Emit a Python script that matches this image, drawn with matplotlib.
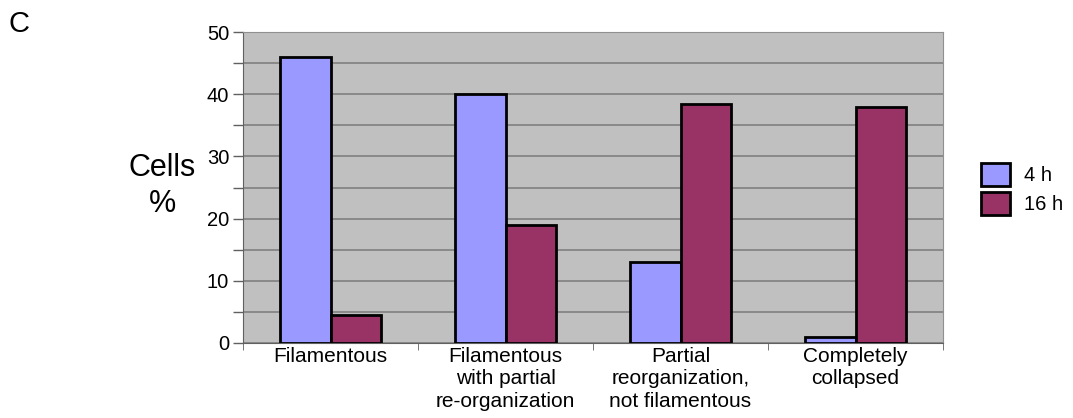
import matplotlib
matplotlib.use("Agg")
import matplotlib.pyplot as plt
import numpy as np

plt.rcParams['font.family'] = ['Liberation Sans', 'DejaVu Sans']

categories = ["Filamentous", "Filamentous\nwith partial\nre-organization",
              "Partial\nreorganization,\nnot filamentous", "Completely\ncollapsed"]
series_names = ["4 h", "16 h"]
values_4h = [46, 40, 13, 1]
values_16h = [4.5, 19, 38.5, 38]
colors = ["#9999ff", "#993366"]

W, H = 1073, 418
fig = plt.figure(figsize=(W/100, H/100), dpi=100)
ax = fig.add_axes([243/W, 1-343/H, (943-243)/W, (343-32)/H])
ax.set_facecolor("#c0c0c0")

x = np.arange(len(categories))
w = 0.29
ax.bar(x - w/2, values_4h, w, color=colors[0], edgecolor="black", linewidth=2, zorder=3, label=series_names[0])
ax.bar(x + w/2, values_16h, w, color=colors[1], edgecolor="black", linewidth=2, zorder=3, label=series_names[1])

ax.set_xlim(-0.5, len(categories) - 0.5)
ax.set_ylim(0, 50)
ax.set_yticks(np.arange(0, 51, 10))
ax.set_yticks(np.arange(5, 50, 10), minor=True)
ax.yaxis.grid(True, which="both", color="#808080", linewidth=1.2, zorder=0)
ax.set_axisbelow(True)
ax.tick_params(axis="y", which="both", length=7, width=1, color="#606060", labelsize=14.5, pad=3)

ax.set_xticks(x)
ax.set_xticklabels(categories, fontsize=15, linespacing=1.22)
ax.tick_params(axis="x", which="major", length=0, pad=3)
ax.set_xticks(np.arange(-0.5, len(categories), 1), minor=True)
ax.tick_params(axis="x", which="minor", length=5, color="#606060")

for s in ["top", "right"]:
    ax.spines[s].set_color("#909090")
ax.spines["left"].set_color("#606060")
ax.spines["bottom"].set_color("#606060")

fig.text(162/W, 1-186/H, "Cells\n%", ha="center", va="center",
         fontsize=22, linespacing=1.25)
fig.text(9/W, 1-24/H, "C", fontsize=21, va="center", ha="left")

leg = fig.legend(*ax.get_legend_handles_labels(), loc="upper left",
                 bbox_to_anchor=(981/W, 1-163/H), bbox_transform=fig.transFigure,
                 frameon=False, borderpad=0, borderaxespad=0,
                 fontsize=14.5, handlelength=1.45, handleheight=1.4, handletextpad=0.7,
                 labelspacing=0.28)

fig.savefig("out.png", dpi=100)
